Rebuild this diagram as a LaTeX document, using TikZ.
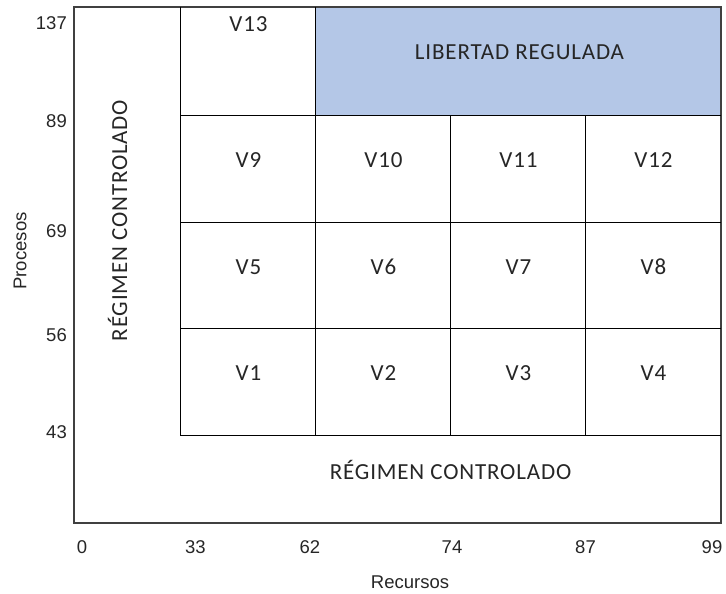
\documentclass[tikz,border=0pt]{standalone}
\usepackage{fontspec}
\setmainfont{Carlito}
\newfontfamily\cellfont[LetterSpace=3.7]{Carlito}
\newfontfamily\axisfont{Liberation Sans}
\definecolor{libblue}{HTML}{B4C7E7}
\begin{document}
\begin{tikzpicture}[x=1pt,y=-1pt,
  celltext/.style={font=\cellfont\fontsize{23}{27}\selectfont, inner sep=0pt, text=black!85, anchor=base},
  axistext/.style={font=\axisfont\fontsize{18.5}{22}\selectfont, inner sep=0pt, text=black!85},
  gridline/.style={draw=black, line width=0.9pt},
  framebox/.style={draw=black!75, line width=1.3pt}]
\useasboundingbox (0,0) rectangle (726,594);
% blue cell
\fill[libblue] (315,7) rectangle (721,115);
% frame
\draw[framebox] (74,7) rectangle (721,523);
% grid
\coordinate (g1) at (180,7);
\coordinate (g2) at (180,435);
\coordinate (g3) at (721,435);
\draw[gridline] (g1) -- (g2) -- (g3);
\foreach \yy in {115,222,328} \draw[gridline] (180,\yy) -- (721,\yy);
\draw[gridline] (315,7) -- (315,435);
\draw[gridline] (450,115) -- (450,435);
\draw[gridline] (585,115) -- (585,435);
% cell labels
\node[celltext] (v13) at (248.5,32) {V13};
\node[celltext] (lib) at (519.5,59.5) {LIBERTAD REGULADA};
\node[celltext] (v9) at (248.5,167.5) {V9};
\node[celltext] (v10) at (383.5,167.5) {V10};
\node[celltext] (v11) at (518.5,167.5) {V11};
\node[celltext] (v12) at (653.5,167.5) {V12};
\node[celltext] (v5) at (248.5,274) {V5};
\node[celltext] (v6) at (383.5,274) {V6};
\node[celltext] (v7) at (518.5,274) {V7};
\node[celltext] (v8) at (653.5,274) {V8};
\node[celltext] (v1) at (248.5,380.5) {V1};
\node[celltext] (v2) at (383.5,380.5) {V2};
\node[celltext] (v3) at (518.5,380.5) {V3};
\node[celltext] (v4) at (653.5,380.5) {V4};
\node[celltext] (rch) at (450.5,479) {RÉGIMEN CONTROLADO};
\node[celltext, rotate=90] (rcv) at (127,220.5) {RÉGIMEN CONTROLADO};
% axis ticks
\node[axistext, anchor=base east] (y137) at (67,30) {137};
\node[axistext, anchor=base east] (y89) at (67,128) {89};
\node[axistext, anchor=base east] (y69) at (67,237) {69};
\node[axistext, anchor=base east] (y56) at (67,341) {56};
\node[axistext, anchor=base east] (y43) at (67,438) {43};
\node[axistext, anchor=base] (x0) at (82,553) {0};
\node[axistext, anchor=base] (x33) at (195.5,553) {33};
\node[axistext, anchor=base] (x62) at (310,553) {62};
\node[axistext, anchor=base] (x74) at (452,553) {74};
\node[axistext, anchor=base] (x87) at (585.5,553) {87};
\node[axistext, anchor=base] (x99) at (712,553) {99};
\node[axistext, anchor=base] (rec) at (410,588) {Recursos};
\node[axistext, anchor=base, rotate=90] (pro) at (26.5,251) {Procesos};
\end{tikzpicture}
\end{document}
